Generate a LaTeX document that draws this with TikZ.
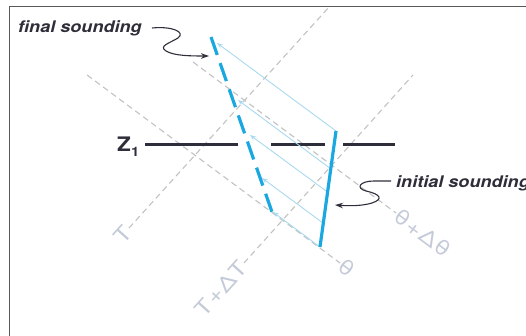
\documentclass[tikz,border=0pt]{standalone}
\usepackage{fontspec}
\setmainfont{TeX Gyre Heros}
\newfontfamily\calloutfont[FakeStretch=1.13]{TeX Gyre Heros}
\newfontfamily\axisfont[FakeStretch=1.2,LetterSpace=4]{TeX Gyre Heros}
\usepackage{tikz}
\usetikzlibrary{arrows.meta, calc}

\definecolor{skyline}{HTML}{1BA8E0}
\definecolor{liftline}{HTML}{A9D9F0}
\definecolor{gridgray}{HTML}{C2C2C2}
\definecolor{gridtext}{HTML}{C4CAD8}
\definecolor{inkgray}{HTML}{2E2E3A}

\begin{document}
\begin{tikzpicture}[
    x=1pt, y=-1pt,
    frame/.style={draw=black!65, line width=0.9pt},
    isoline/.style={draw=gridgray, dash pattern=on 6pt off 4pt, line width=1.1pt},
    isotext/.style={text=gridtext, font=\axisfont\fontsize{21}{23}\selectfont, inner sep=1pt},
    level/.style={draw=inkgray, line width=3pt},
    initial/.style={draw=skyline, line width=3.2pt},
    final/.style={draw=skyline, line width=3.2pt, dash pattern=on 19pt off 8.67pt},
    lift/.style={draw=liftline, line width=0.9pt, -{Stealth[length=6pt,width=4.5pt]}},
    callout/.style={text=inkgray, font=\calloutfont\fontsize{16}{18}\selectfont\bfseries\itshape, inner sep=0pt},
    pointer/.style={draw=inkgray, line width=1.1pt, -{Stealth[length=8pt,width=5.5pt]}}
]
\useasboundingbox (0,0) rectangle (526,336);
\draw[frame] (9,336) -- (9,6) -- (526,6);

% isotherms (up-right) and dry adiabats (down-right)
\coordinate (T0) at (129,228);   \coordinate (T1) at (330,6);
\coordinate (dT0) at (244,263);  \coordinate (dT1) at (413,75);
\coordinate (th0) at (87,75);    \coordinate (th1) at (340,263);
\coordinate (dth0) at (193,62);  \coordinate (dth1) at (396,213);
\draw[isoline] (T0) -- (T1);
\draw[isoline] (dT0) -- (dT1);
\draw[isoline] (th0) -- (th1);
\draw[isoline] (dth0) -- (dth1);
\node[isotext, anchor=east, rotate=48] (Tlab) at (T0) {T};
\node[isotext, anchor=east, rotate=48] (dTlab) at (dT0) {T+ΔT};
\node[isotext, anchor=west, rotate=-36.5] (thlab) at (th1) {θ};
\node[isotext, anchor=west, rotate=-36.5] (dthlab) at (dth1) {θ+Δθ};

% level Z1
\node[text=inkgray, font=\calloutfont\fontsize{20}{22}\selectfont\bfseries, anchor=base west, inner sep=0pt] (zlab) at (117,152)
    {Z\raisebox{-5pt}{\fontsize{13}{14}\selectfont 1}};
\draw[level] (145,145) -- (238,145);
\draw[level] (271,145) -- (325,145);
\draw[level] (343,145) -- (395,145);

% soundings
\coordinate (ini-top) at (336,131);  \coordinate (ini-bot) at (320,247);
\coordinate (fin-top) at (211,37);   \coordinate (fin-bot) at (272,212);

% lifting of the layer
\coordinate (s1) at (336,131);   \coordinate (e1) at (217,43);
\coordinate (s2) at (331,169);   \coordinate (e2) at (238,100);
\coordinate (s3) at (327.5,192); \coordinate (e3) at (250,135);
\coordinate (s4) at (323,223);   \coordinate (e4) at (262,178);
\coordinate (s5) at (320,247);   \coordinate (e5) at (273,212);
\foreach \i in {1,...,5}
    \draw[lift] (s\i) -- (e\i);

\draw[final] (fin-top) -- (fin-bot);
\draw[initial] (ini-top) -- (ini-bot);

% callouts
\node[callout, anchor=base west] (finaltxt) at (18,33) {final sounding};
\node[callout, anchor=base west] (initialtxt) at (396,188) {initial sounding};
\coordinate (fp) at (152,28);
\coordinate (ip) at (391,181);
\draw[pointer] (fp) .. controls (172,26) and (186,32) .. (178,38)
    .. controls (170,43) and (158,46) .. (166,51)
    .. controls (174,56) and (192,56) .. (209,56);
\draw[pointer] (ip) -- (374,181) .. controls (360,181) and (355,188) .. (366,191)
    .. controls (380,194) and (384,199) .. (372,203)
    .. controls (362,206) and (350,206) .. (335,205);
\end{tikzpicture}
\end{document}
